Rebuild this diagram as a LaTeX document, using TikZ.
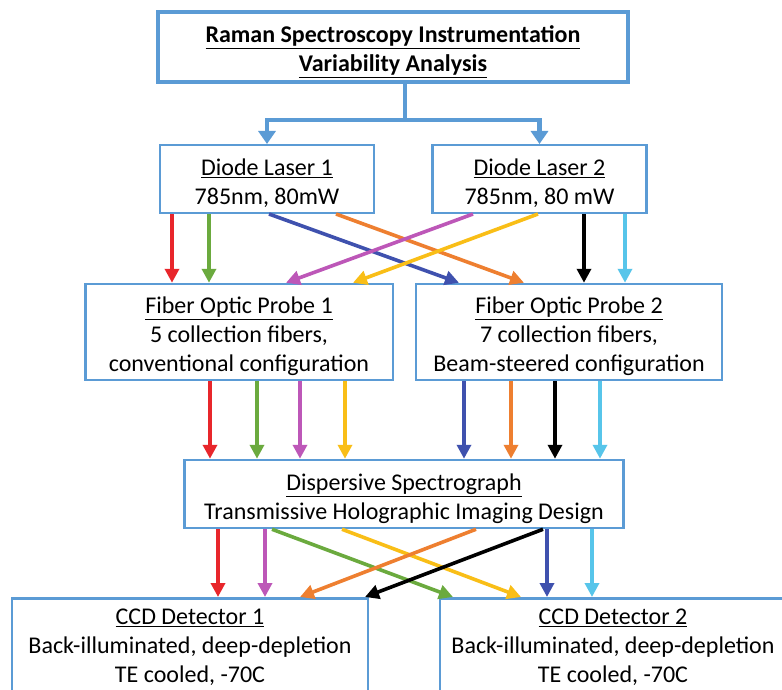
\documentclass[tikz,border=0pt]{standalone}
\usepackage{fontspec}
\setmainfont{Carlito}
\usetikzlibrary{arrows.meta}
\definecolor{boxblue}{HTML}{5B9BD5}
\definecolor{cred}{HTML}{E8262B}
\definecolor{cgreen}{HTML}{6BAA3E}
\definecolor{cmag}{HTML}{BD57B8}
\definecolor{cyel}{HTML}{F9BE17}
\definecolor{cblue}{HTML}{3F51AE}
\definecolor{corange}{HTML}{EE7F30}
\definecolor{ccyan}{HTML}{57C5EA}
\newcommand\topstrut{\rule{0pt}{26pt}}
\tikzset{
  box/.style={draw=boxblue, line width=2.5pt, align=center, inner sep=0pt,
    font=\fontsize{24}{29}\selectfont, fill=white},
  titlebox/.style={box, line width=4pt, font=\fontsize{24}{29}\selectfont\bfseries},
  stem/.style={draw=boxblue, line width=4.5pt},
  stemarrow/.style={stem, -{Triangle[width=17pt,length=13pt]}},
  link/.style={line width=3.6pt, -{Triangle[width=14pt,length=14pt]}},
}
\begin{document}
\begin{tikzpicture}[x=1pt,y=-1pt]
\useasboundingbox (0,0) rectangle (782,690);
\clip (0,0) rectangle (782,690);
\fill[white] (0,0) rectangle (782,690);

\node[titlebox, minimum width=470, minimum height=70] (title) at (393,47)
  {\topstrut\underline{Raman Spectroscopy Instrumentation}\\\underline{Variability Analysis}};

\node[box, minimum width=214, minimum height=67.5] (dl1) at (267,179)
  {\topstrut\underline{Diode Laser 1}\\785nm, 80mW};
\node[box, minimum width=214, minimum height=67.5] (dl2) at (539.5,179)
  {\topstrut\underline{Diode Laser 2}\\785nm, 80 mW};

\node[box, minimum width=307.5, minimum height=96] (fop1) at (239,332)
  {\topstrut\underline{Fiber Optic Probe 1}\\5 collection fibers,\\conventional configuration};
\node[box, minimum width=306, minimum height=96] (fop2) at (569,332)
  {\topstrut\underline{Fiber Optic Probe 2}\\7 collection fibers,\\Beam-steered configuration};

\node[box, minimum width=439, minimum height=68] (spec) at (404,494)
  {\topstrut\underline{Dispersive Spectrograph}\\Transmissive Holographic Imaging Design};

\node[box, anchor=north, minimum width=356, inner ysep=0pt] (ccd1) at (190,597)
  {\topstrut\underline{CCD Detector 1}\\Back-illuminated, deep-depletion\\TE cooled, -70C\\ ~};
\node[box, anchor=north, minimum width=346, inner ysep=0pt] (ccd2) at (613,597)
  {\topstrut\underline{CCD Detector 2}\\Back-illuminated, deep-depletion\\TE cooled, -70C\\ ~};

% title stem
\coordinate (jn) at (405,120);
\draw[stem] (title.south -| jn) -- (jn);
\draw[stemarrow] (jn) -| (dl1.north);
\draw[stemarrow] (jn) -| (dl2.north);

% lasers -> probes
\draw[link, cred]    (dl1.south -| 172,0) -- (fop1.north -| 172,0);
\draw[link, cgreen]  (dl1.south -| 209,0) -- (fop1.north -| 209,0);
\draw[link, cblue]   (dl1.south -| 269,0) -- (fop2.north -| 459,0);
\draw[link, corange] (dl1.south -| 336,0) -- (fop2.north -| 524,0);
\draw[link, cmag]    (dl2.south -| 473,0) -- (fop1.north -| 286,0);
\draw[link, cyel]    (dl2.south -| 538,0) -- (fop1.north -| 353,0);
\draw[link, black]   (dl2.south -| 584,0) -- (fop2.north -| 584,0);
\draw[link, ccyan]   (dl2.south -| 625,0) -- (fop2.north -| 625,0);

% probes -> spectrograph
\draw[link, cred]    (fop1.south -| 210,0) -- (spec.north -| 210,0);
\draw[link, cgreen]  (fop1.south -| 257,0) -- (spec.north -| 257,0);
\draw[link, cmag]    (fop1.south -| 300,0) -- (spec.north -| 300,0);
\draw[link, cyel]    (fop1.south -| 345,0) -- (spec.north -| 345,0);
\draw[link, cblue]   (fop2.south -| 464,0) -- (spec.north -| 464,0);
\draw[link, corange] (fop2.south -| 511,0) -- (spec.north -| 511,0);
\draw[link, black]   (fop2.south -| 555,0) -- (spec.north -| 555,0);
\draw[link, ccyan]   (fop2.south -| 600,0) -- (spec.north -| 600,0);

% spectrograph -> detectors
\draw[link, cred]    (spec.south -| 218,0) -- (ccd1.north -| 218,0);
\draw[link, cmag]    (spec.south -| 265,0) -- (ccd1.north -| 265,0);
\draw[link, cgreen]  (spec.south -| 272,0) -- (ccd2.north -| 453,0);
\draw[link, cyel]    (spec.south -| 342,0) -- (ccd2.north -| 521,0);
\draw[link, corange] (spec.south -| 476,0) -- (ccd1.north -| 300,0);
\draw[link, black]   (spec.south -| 543,0) -- (ccd1.north -| 365,0);
\draw[link, cblue]   (spec.south -| 547,0) -- (ccd2.north -| 547,0);
\draw[link, ccyan]   (spec.south -| 592,0) -- (ccd2.north -| 592,0);
\end{tikzpicture}
\end{document}
